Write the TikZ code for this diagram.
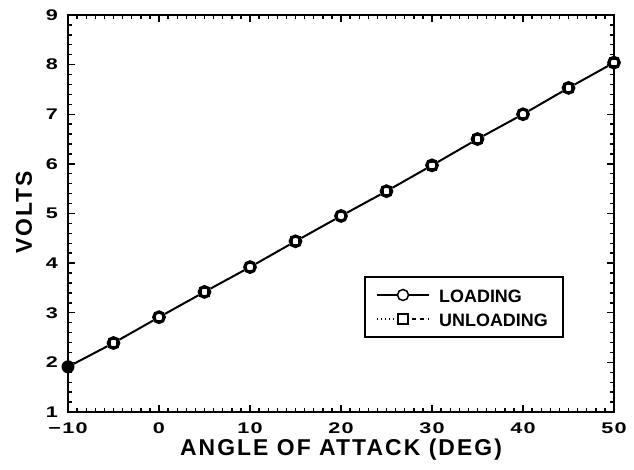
\documentclass[tikz,border=0pt]{standalone}
\usepackage{fontspec}
\setmainfont{Liberation Sans}
\newfontfamily\tickfont[FakeStretch=1.4,LetterSpace=8]{Liberation Sans}
\newfontfamily\titlefont[LetterSpace=9]{Liberation Sans}
\begin{document}
\begin{tikzpicture}[x=1bp,y=1bp,
  framestyle/.style={line width=1.6bp},
  tickstyle/.style={line width=1.4bp},
  curvestyle/.style={line width=2bp},
  ticklabel/.style={font=\tickfont\bfseries\fontsize{15.5}{15.5}\selectfont,inner sep=0pt},
  axistitle/.style={font=\titlefont\bfseries\fontsize{23}{23}\selectfont,inner sep=0pt},
  mcirc/.style={circle,draw,line width=3.2bp,minimum size=10.5bp,inner sep=0pt,fill=white},
  msq/.style={rectangle,draw,line width=2.4bp,minimum size=8bp,inner sep=0pt},
  mfill/.style={circle,fill,minimum size=13bp,inner sep=0pt},
  legtext/.style={font=\bfseries\fontsize{18}{18}\selectfont,inner sep=0pt,anchor=base west},
  lcirc/.style={circle,draw,line width=1.5bp,minimum size=11bp,inner sep=0pt},
  lsq/.style={rectangle,draw,line width=1.5bp,minimum size=10bp,inner sep=0pt}
]
\useasboundingbox (0,0) rectangle (634,470);
\begin{scope}[xshift=68bp,yshift=58bp,x=9.1bp,y=49.625bp]
  % frame
  \draw[framestyle] (0,0) rectangle (60,8);
  % x ticks (bottom and top)
  \foreach \i in {1,...,59}{
    \draw[tickstyle] (\i,0) -- ++(0,4bp);
    \draw[tickstyle] (\i,8) -- ++(0,-4bp);
  }
  \foreach \i in {10,20,30,40,50}{
    \draw[tickstyle] (\i,0) -- ++(0,7bp);
    \draw[tickstyle] (\i,8) -- ++(0,-7bp);
  }
  % y ticks (left and right)
  \foreach \j in {1,...,39}{
    \draw[tickstyle] (0,{\j/5}) -- ++(4bp,0);
    \draw[tickstyle] (60,{\j/5}) -- ++(-4bp,0);
  }
  \foreach \j in {1,...,7}{
    \draw[tickstyle] (0,\j) -- ++(7bp,0);
    \draw[tickstyle] (60,\j) -- ++(-7bp,0);
  }
  % x tick labels
  \foreach \v [count=\k] in {-10,0,10,20,30,40,50}{
    \pgfmathtruncatemacro{\pos}{\v+10}
    \node[ticklabel] (xl\k) at ([yshift=-16.5bp]\pos,0) {\ifnum\v<0 −\the\numexpr-\v\relax\else\v\fi};
  }
  % y tick labels
  \foreach \v in {1,...,9}{
    \pgfmathtruncatemacro{\pos}{\v-1}
    \node[ticklabel,anchor=east] (yl\v) at ([xshift=-10bp]0,\pos) {\v};
  }
  % data markers
  \node[mfill] (m1) at (0,0.91) {};
  \foreach \d/\vv [count=\k from 2] in {5/1.39,10/1.91,15/2.42,20/2.92,25/3.44,30/3.95,35/4.45,40/4.97,45/5.50,50/6.00,55/6.53,60/7.04}{
    \node[mcirc] (m\k) at (\d,\vv) {};
    \node[msq] (s\k) at (\d,\vv) {};
  }
  \foreach \a [remember=\a as \b (initially 1)] in {2,...,13}{
    \draw[curvestyle] (m\b) -- (m\a);
  }
\end{scope}
% axis titles
\node[axistitle] (xt) at (341,20) {ANGLE OF ATTACK (DEG)};
\node[axistitle,rotate=90] (yt) at (24,257.5) {VOLTS};
% legend
\node[draw,line width=1.4bp,minimum width=198bp,minimum height=60bp,inner sep=0pt] (leg) at (464,163) {};
\coordinate (la1) at (377,175);
\coordinate (lb1) at (429,175);
\node[lcirc] (lc) at (403,175) {};
\draw[line width=1.5bp] (la1) -- (lc) -- (lb1);
\coordinate (la2) at (377,151);
\coordinate (lb2) at (429,151);
\node[lsq] (ls) at (403,151) {};
\draw[line width=1.4bp,dash pattern=on 1.4bp off 2.6bp] (la2) -- (ls);
\draw[line width=1.4bp,dash pattern=on 4bp off 4bp] ([xshift=3bp]ls.east) -- (lb2);
\node[legtext] (lt1) at (439,167.5) {LOADING};
\node[legtext] (lt2) at (439,143.5) {UNLOADING};
\end{tikzpicture}
\end{document}
